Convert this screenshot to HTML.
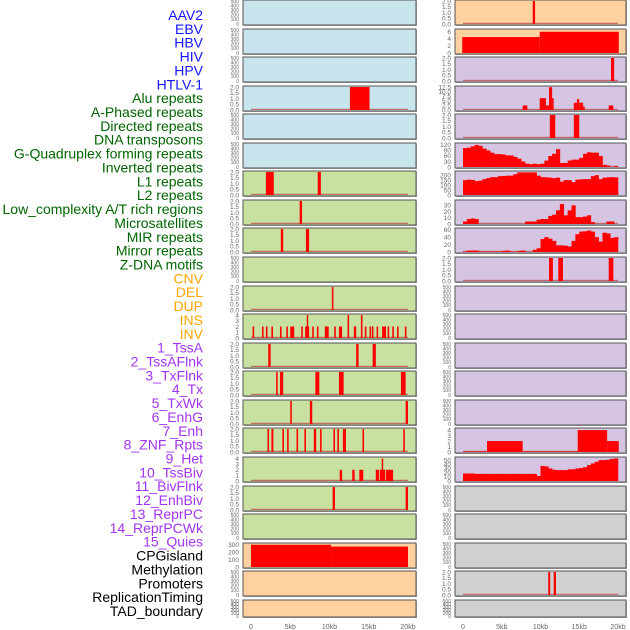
<!DOCTYPE html>
<html><head><meta charset="utf-8"><style>
body{margin:0;background:#fff;width:630px;height:630px;overflow:hidden}
svg{display:block}
</style></head><body>
<svg id="chart" width="630" height="630" xmlns="http://www.w3.org/2000/svg" font-family="Liberation Sans, sans-serif"></svg>
<script>
const trackNames=["AAV2","EBV","HBV","HIV","HPV","HTLV-1","Alu repeats","A-Phased repeats","Directed repeats","DNA transposons","G-Quadruplex forming repeats","Inverted repeats","L1 repeats","L2 repeats","Low_complexity A/T rich regions","Microsatellites","MIR repeats","Mirror repeats","Z-DNA motifs","CNV","DEL","DUP","INS","INV","1_TssA","2_TssAFlnk","3_TxFlnk","4_Tx","5_TxWk","6_EnhG","7_Enh","8_ZNF_Rpts","9_Het","10_TssBiv","11_BivFlnk","12_EnhBiv","13_ReprPC","14_ReprPCWk","15_Quies","CPGisland","Methylation","Promoters","ReplicationTiming","TAD_boundary"];
const labelColors=["#1414ff","#006400","#ffa500","#a235f0","#000"];
const groupSizes=[6,13,5,15,5];
const xTicks=[0,5,10,15,20];
const xTickLabels=["0","5kb","10kb","15kb","20kb"];
const emptyTicks=[0,100,200,300,400,500];
const twoTicks=[0,0.5,1,1.5,2];
const fourTicks=[0,1,2,3,4];
// bar tracks: [startKb,endKb,value]
const barsHIV=[[12.6,15.1,2]];
const barsAlu=[[1.9,2.9,2],[8.5,8.9,2]];
const barsAPhased=[[6.2,6.5,2]];
const barsDirected=[[3.8,4.1,2],[7.0,7.4,2]];
const barsGQuad=[[10.3,10.5,2]];
const barsInverted=[[0.2,0.4,2],[1.4,1.6,2],[1.9,2.1,2],[2.6,2.8,2],[3.7,3.9,2],[4.5,4.7,2],[5.0,5.5,2],[6.4,6.6,2],[6.9,7.4,2],[7.1,7.25,4],[7.8,8.0,2],[8.4,8.6,2],[9.4,9.9,2],[10.6,10.8,2],[11.2,11.6,2],[12.3,12.5,4],[13.1,13.4,2],[14.0,14.2,4],[14.5,14.7,2],[15.1,15.3,2],[15.4,15.6,2],[16.0,16.2,2],[16.7,17.2,2],[17.4,17.6,2],[18.0,18.2,2],[18.6,18.8,2],[19.6,19.8,2]];
const barsL1=[[2.2,2.5,2],[13.4,13.7,2],[15.5,15.9,2]];
const barsL2=[[3.2,3.4,2],[3.7,4.1,2],[8.2,8.7,2],[11.2,11.8,2],[19.1,19.7,2]];
const barsLowComplex=[[5.0,5.2,2],[7.5,7.8,2],[19.7,20.0,2]];
const barsMicrosat=[[2.1,2.3,2],[2.6,2.85,2],[4.0,4.2,2],[4.6,4.8,2],[5.8,6.0,2],[6.8,7.0,2],[8.0,8.3,2],[8.8,9.0,2],[10.5,10.7,2],[11.0,11.2,2],[11.7,12.1,2],[14.2,14.4,2],[19.4,19.6,2]];
const barsMIR=[[11.3,11.6,2],[12.9,13.2,2],[13.8,14.3,2],[15.9,16.3,2],[16.4,17.1,2],[16.65,16.75,4],[17.2,18.1,2]];
const barsMirror=[[10.4,10.7,2],[19.7,20.0,2]];
const barsCNV=[[0,10.2,300],[10.2,20,275]];
const barsINS=[[9.0,9.3,2]];
const barsINV=[[-0.1,9.9,4.5],[9.9,20.1,6]];
const barsTssA=[[19.1,19.5,2]];
const barsTssAFlnk=[[7.7,8.3,2.5],[9.9,10.7,6.5],[10.7,11.1,2.5],[11.1,11.5,12.5],[11.5,11.7,6.5],[14.3,14.7,4],[14.7,15.0,6],[15.0,15.5,4],[15.5,15.7,2],[18.8,19.4,2.5]];
const barsTxFlnk=[[11.2,11.9,2],[14.3,15.0,2]];
const barsZNF=[[11.1,11.6,2],[12.3,12.9,2],[18.8,19.4,2]];
const barsReprPCWk=[[0,3.1,0.1],[3.1,7.7,2],[7.7,14.8,0.1],[14.8,18.6,4],[18.6,20.1,2]];
const barsRepTiming=[[11.0,11.25,2],[11.7,12.0,2]];
// density tracks: 40 bins of 0.5kb
const binsTx=[103,105,112,120,115,100,90,78,70,70,68,63,63,55,45,30,18,15,18,15,18,35,60,72,97,22,22,35,40,40,50,72,80,78,78,60,12,8,0,5];
const binsTxWk=[150,155,152,140,145,160,170,180,180,190,192,195,195,210,228,228,228,228,228,195,180,178,175,170,175,135,150,150,130,155,158,160,160,190,200,160,175,178,180,178];
const binsEnhG=[4,8,9,8,0,0,0,0,0,0,0,0,0,0,0,0,4,4,4,7,8,8,13,15,22,32,14,22,30,11,11,12,14,3,0,0,0,4,4,0];
const binsEnh=[1,4,4,4,1,1,1,1,1,1,3,4,1,0,3,4,0,0,6,10,35,40,36,30,18,18,17,15,30,48,55,56,58,55,40,28,52,50,38,40];
const binsQuies=[18,18,18,17,17,17,17,17,17,17,17,17,17,17,17,17,17,17,17,12,36,35,30,27,26,26,26,28,28,30,31,33,38,42,46,50,50,51,53,54];

const BLUE="#c8e4ec",GREEN="#c8e0a0",ORANGE="#ffd0a0",PURPLE="#d5c5e2",GRAY="#d0d0d0";
function T(bg,ymax,ticks,opts){return Object.assign({bg:bg,ymax:ymax,ticks:ticks},opts||{});}
const tracks=[
T(BLUE,500,emptyTicks),T(BLUE,500,emptyTicks),T(BLUE,500,emptyTicks),
T(BLUE,2,twoTicks,{bars:barsHIV}),T(BLUE,500,emptyTicks),T(BLUE,500,emptyTicks),
T(GREEN,2,twoTicks,{bars:barsAlu}),T(GREEN,2,twoTicks,{bars:barsAPhased}),T(GREEN,2,twoTicks,{bars:barsDirected}),
T(GREEN,500,emptyTicks),T(GREEN,2,twoTicks,{bars:barsGQuad}),T(GREEN,4,fourTicks,{bars:barsInverted,intLabels:true}),
T(GREEN,2,twoTicks,{bars:barsL1}),T(GREEN,2,twoTicks,{bars:barsL2}),T(GREEN,2,twoTicks,{bars:barsLowComplex}),
T(GREEN,2,twoTicks,{bars:barsMicrosat}),T(GREEN,4.1,fourTicks,{bars:barsMIR,intLabels:true}),T(GREEN,2,twoTicks,{bars:barsMirror}),
T(GREEN,500,emptyTicks),T(ORANGE,310,[0,100,200,300],{bars:barsCNV,intLabels:true,noBase:true}),T(ORANGE,500,emptyTicks),T(ORANGE,500,emptyTicks),
T(ORANGE,2,twoTicks,{bars:barsINS}),T(ORANGE,6.5,[0,2,4,6],{bars:barsINV,intLabels:true,noBase:true}),
T(PURPLE,2,twoTicks,{bars:barsTssA}),T(PURPLE,12.6,[0,2.5,5,7.5,10,12.5],{bars:barsTssAFlnk}),T(PURPLE,2,twoTicks,{bars:barsTxFlnk}),
T(PURPLE,125,[0,30,60,90,120],{bins:binsTx}),T(PURPLE,232,[0,50,100,150,200],{bins:binsTxWk}),T(PURPLE,37,[0,10,20,30],{bins:binsEnhG}),
T(PURPLE,62,[0,20,40,60],{bins:binsEnh}),T(PURPLE,2,twoTicks,{bars:barsZNF}),T(PURPLE,500,emptyTicks),
T(PURPLE,500,emptyTicks),T(PURPLE,500,emptyTicks),T(PURPLE,500,emptyTicks),T(PURPLE,500,emptyTicks),
T(PURPLE,4.2,fourTicks,{bars:barsReprPCWk,intLabels:true}),T(PURPLE,55,[0,10,20,30,40,50],{bins:binsQuies,noBase:true}),
T(GRAY,500,emptyTicks),T(GRAY,500,emptyTicks),T(GRAY,500,emptyTicks),T(GRAY,2,twoTicks,{bars:barsRepTiming}),T(GRAY,500,emptyTicks)
];
const svg=document.getElementById('chart');
const NS="http://www.w3.org/2000/svg";
function el(tag,attrs,parent){const e=document.createElementNS(NS,tag);for(const k in attrs)e.setAttribute(k,attrs[k]);(parent||svg).appendChild(e);return e;}
// labels
let gi=0,cnt=0;
trackNames.forEach((n,i)=>{
  while(cnt>=groupSizes[gi]){cnt-=groupSizes[gi];gi++;}
  cnt++;
  const t=el('text',{x:203,y:15+i*13.86+5,'text-anchor':'end','font-size':14,fill:labelColors[gi]});
  t.textContent=n;
  
  
});
const rowTops=[0,29,57,86,114,143,171,200,228,257,286,314,343,371,400,428,457,486,514,543,571,600];
const cols=[{x0:243,w:173,z:251,k:7.85},{x0:455,w:171,z:463,k:7.75}];
tracks.forEach((tr,i)=>{
  const col=cols[i<22?0:1];const r=i%22;
  const top=rowTops[r];const h=(r===21)?17:25;
  const g=el('g',{});
  
  
  el('rect',{x:col.x0+1,y:top+1,width:col.w,height:h,fill:'#aaa'},g);
  el('rect',{x:col.x0,y:top,width:col.w,height:h,fill:tr.bg,stroke:'#555','stroke-width':1},g);
  const xs=kb=>col.z+kb*col.k;
  const y0=top+h-1,y1=top+1;
  const ys=v=>y0-(v/tr.ymax)*(y0-y1);
  if(!tr.noBase&&(tr.bars||tr.bins)) el('rect',{x:xs(0),y:y0-1.2,width:xs(20)-xs(0),height:1.2,fill:'#c05050',opacity:0.8},g);
  if(tr.bars){tr.bars.forEach(b=>{
    const rr=el('rect',{x:xs(b[0]),y:ys(b[2]),width:Math.max(1.5,xs(b[1])-xs(b[0])),height:y0-ys(b[2]),fill:'#ff0000'},g);
    
    
  });}
  if(tr.bins){tr.bins.forEach((v,j)=>{
    if(v<=0)return;
    const rr=el('rect',{x:xs(j*0.5),y:ys(v),width:xs(0.5)-xs(0)+0.3,height:y0-ys(v),fill:'#ff0000'},g);
    
    
  });}
  const fs=tr.ymax===500?5:6.5;
  tr.ticks.forEach(v=>{
    let lab=tr.intLabels||tr.ymax===500?String(v):(tr.ymax>20?String(v):v.toFixed(1));
    const yy=Math.min(ys(v)+fs*0.35,top+h+2);
    const t=el('text',{x:col.x0-4,y:yy,'text-anchor':'end','font-size':fs,fill:'#666'},g);
    t.textContent=lab;
  });
});
cols.forEach((col,ci)=>{
  xTicks.forEach((v,j)=>{
    const t=el('text',{x:col.z+v*col.k,y:629,'text-anchor':'middle','font-size':7,fill:'#666'});
    t.textContent=xTickLabels[j];
    
    
  });
});
</script>
</body></html>
